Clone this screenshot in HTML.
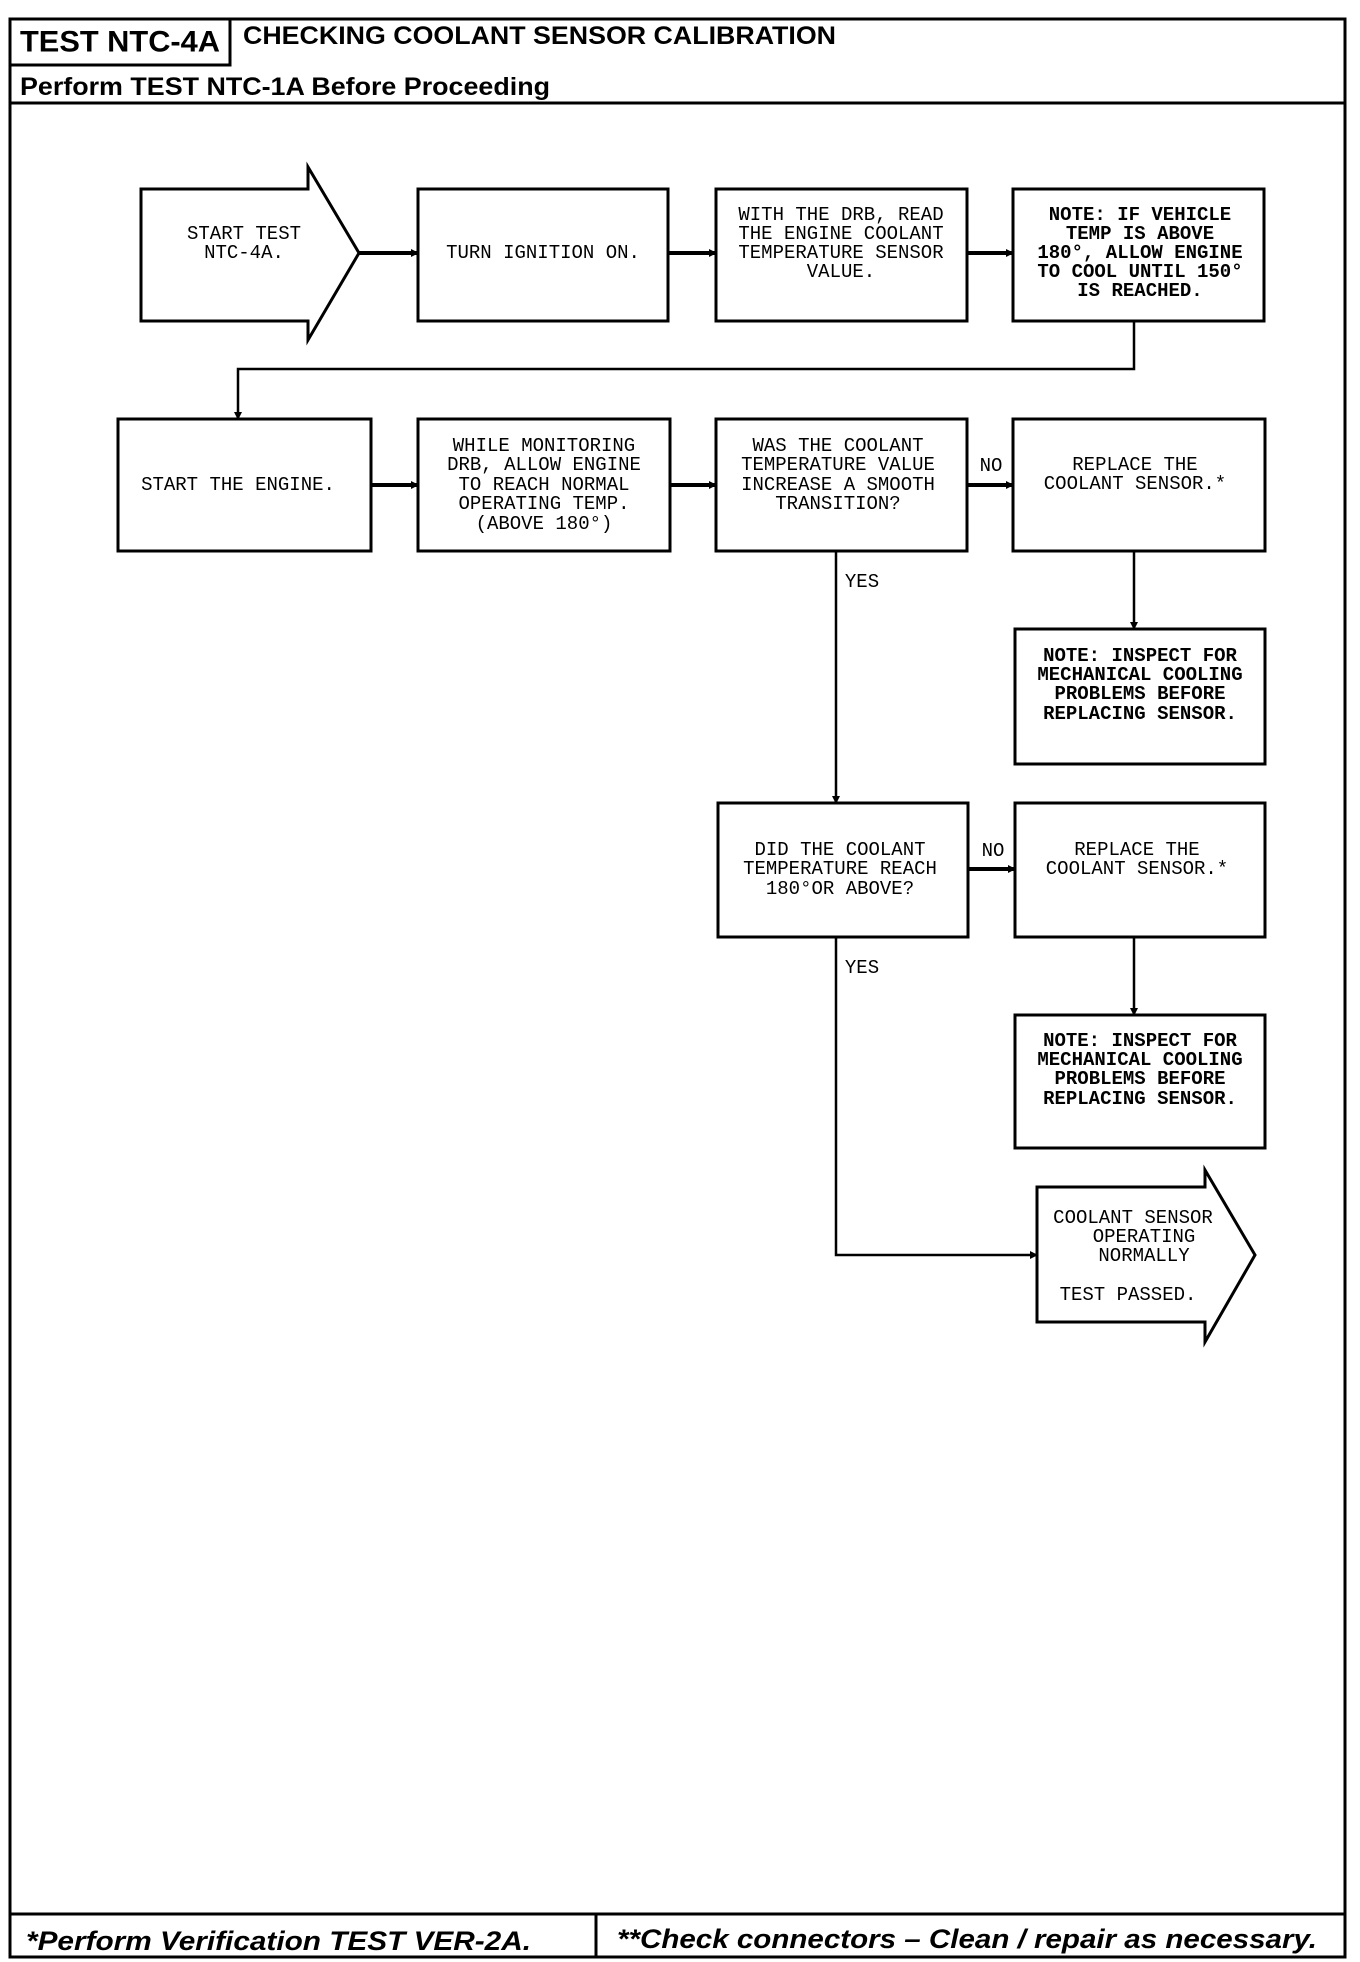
<!DOCTYPE html>
<html><head><meta charset="utf-8"><style>
html,body{margin:0;padding:0;background:#fff;}
svg{display:block}
.t{font-family:"Liberation Mono",monospace;font-size:19px;text-anchor:middle;dominant-baseline:central;fill:#000}
.b{font-weight:bold}
</style></head><body>
<svg width="1360" height="1962" viewBox="0 0 1360 1962" xmlns="http://www.w3.org/2000/svg">
<defs><marker id="a" markerWidth="8" markerHeight="8" refX="7" refY="4" orient="auto" markerUnits="userSpaceOnUse"><path d="M0,0 L8,4 L0,8 z" fill="#000"/></marker></defs>
<g fill="none" stroke="#000" stroke-width="3">
<rect x="10" y="19" width="1335" height="1938"/>
<rect x="10" y="19" width="220" height="46"/>
<line x1="10" y1="103" x2="1345" y2="103"/>
<line x1="10" y1="1914" x2="1345" y2="1914"/>
<line x1="596" y1="1914" x2="596" y2="1957"/>
<path d="M141,189 H308 V167 L359,253 L308,340 V321 H141 Z"/>
<rect x="418" y="189" width="250" height="132"/>
<rect x="716" y="189" width="251" height="132"/>
<rect x="1013" y="189" width="251" height="132"/>
<rect x="118" y="419" width="253" height="132"/>
<rect x="418" y="419" width="252" height="132"/>
<rect x="716" y="419" width="251" height="132"/>
<rect x="1013" y="419" width="252" height="132"/>
<rect x="1015" y="629" width="250" height="135"/>
<rect x="718" y="803" width="250" height="134"/>
<rect x="1015" y="803" width="250" height="134"/>
<rect x="1015" y="1015" width="250" height="133"/>
<path d="M1037,1187 H1205 V1170 L1255,1255 L1205,1342 V1322 H1037 Z"/>
</g>
<g fill="none" stroke="#000" stroke-width="2.5" marker-end="url(#a)">
<line x1="359" y1="253" x2="418" y2="253" stroke-width="4"/>
<line x1="668" y1="253" x2="716" y2="253" stroke-width="4"/>
<line x1="967" y1="253" x2="1013" y2="253" stroke-width="4"/>
<path d="M1134,321 V369 H238 V419"/>
<line x1="371" y1="485" x2="418" y2="485" stroke-width="4"/>
<line x1="670" y1="485" x2="716" y2="485" stroke-width="4"/>
<line x1="967" y1="485" x2="1013" y2="485" stroke-width="4"/>
<line x1="1134" y1="551" x2="1134" y2="629"/>
<line x1="836" y1="551" x2="836" y2="803"/>
<line x1="968" y1="869" x2="1015" y2="869" stroke-width="4"/>
<line x1="1134" y1="937" x2="1134" y2="1015"/>
<path d="M836,937 V1255 H1037"/>
</g>
<text x="120" y="42" font-family="Liberation Sans,sans-serif" font-weight="bold" font-size="30" text-anchor="middle" dominant-baseline="central" textLength="200" lengthAdjust="spacingAndGlyphs">TEST NTC-4A</text>
<text x="243" y="36" font-family="Liberation Sans,sans-serif" font-weight="bold" font-size="25" dominant-baseline="central" textLength="593" lengthAdjust="spacingAndGlyphs">CHECKING COOLANT SENSOR CALIBRATION</text>
<text x="20" y="87" font-family="Liberation Sans,sans-serif" font-weight="bold" font-size="25" dominant-baseline="central" textLength="530" lengthAdjust="spacingAndGlyphs">Perform TEST NTC-1A Before Proceeding</text>
<text x="26" y="1941" font-family="Liberation Sans,sans-serif" font-weight="bold" font-style="italic" font-size="27" dominant-baseline="central" textLength="505" lengthAdjust="spacingAndGlyphs">*Perform Verification TEST VER-2A.</text>
<text x="617" y="1939" font-family="Liberation Sans,sans-serif" font-weight="bold" font-style="italic" font-size="27" dominant-baseline="central" textLength="700" lengthAdjust="spacingAndGlyphs">**Check connectors – Clean / repair as necessary.</text>
<g class="t">
<text x="244" y="234">START TEST</text><text x="244" y="253">NTC-4A.</text>
<text x="543" y="253">TURN IGNITION ON.</text>
<text x="841" y="215">WITH THE DRB, READ</text><text x="841" y="234">THE ENGINE COOLANT</text><text x="841" y="253">TEMPERATURE SENSOR</text><text x="841" y="272">VALUE.</text>
<g class="b"><text x="1140" y="215">NOTE: IF VEHICLE</text><text x="1140" y="234">TEMP IS ABOVE</text><text x="1140" y="253">180°, ALLOW ENGINE</text><text x="1140" y="272">TO COOL UNTIL 150°</text><text x="1140" y="291">IS REACHED.</text></g>
<text x="238" y="485">START THE ENGINE.</text>
<text x="544" y="446">WHILE MONITORING</text><text x="544" y="465">DRB, ALLOW ENGINE</text><text x="544" y="485">TO REACH NORMAL</text><text x="544" y="504">OPERATING TEMP.</text><text x="544" y="524">(ABOVE 180°)</text>
<text x="838" y="446">WAS THE COOLANT</text><text x="838" y="465">TEMPERATURE VALUE</text><text x="838" y="485">INCREASE A SMOOTH</text><text x="838" y="504">TRANSITION?</text>
<text x="991" y="466">NO</text>
<text x="1135" y="465">REPLACE THE</text><text x="1135" y="484">COOLANT SENSOR.*</text>
<text x="862" y="582">YES</text>
<g class="b"><text x="1140" y="656">NOTE: INSPECT FOR</text><text x="1140" y="675">MECHANICAL COOLING</text><text x="1140" y="694">PROBLEMS BEFORE</text><text x="1140" y="714">REPLACING SENSOR.</text></g>
<text x="840" y="850">DID THE COOLANT</text><text x="840" y="869">TEMPERATURE REACH</text><text x="840" y="889">180°OR ABOVE?</text>
<text x="993" y="851">NO</text>
<text x="1137" y="850">REPLACE THE</text><text x="1137" y="869">COOLANT SENSOR.*</text>
<text x="862" y="968">YES</text>
<g class="b"><text x="1140" y="1041">NOTE: INSPECT FOR</text><text x="1140" y="1060">MECHANICAL COOLING</text><text x="1140" y="1079">PROBLEMS BEFORE</text><text x="1140" y="1099">REPLACING SENSOR.</text></g>
<text x="1133" y="1218">COOLANT SENSOR</text><text x="1144" y="1237">OPERATING</text><text x="1144" y="1256">NORMALLY</text><text x="1128" y="1295">TEST PASSED.</text>
</g>
</svg>
</body></html>
